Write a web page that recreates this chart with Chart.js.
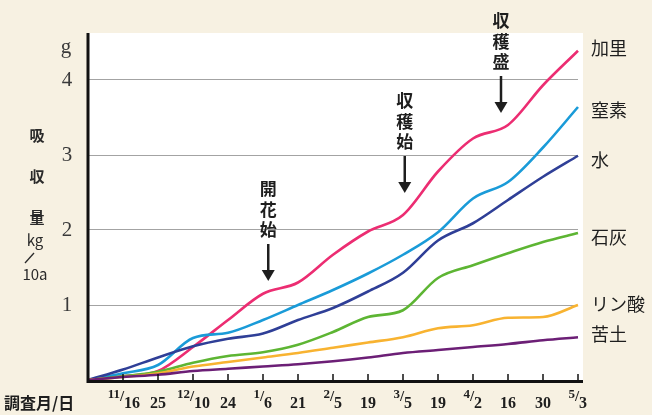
<!DOCTYPE html>
<html>
<head>
<meta charset="utf-8">
<script src="https://cdn.jsdelivr.net/npm/chart.js@4.4.1/dist/chart.umd.min.js"></script>
<style>
    html, body { margin: 0; padding: 0; background: #f7f1e2; }
    #wrap { width: 652px; height: 415px; position: relative; }
</style>
</head>
<body>
<div id="wrap"><canvas id="chart"></canvas></div>
<script>
// ---- data ----
const xLabels = ['', '11/16', '25', '12/10', '24', '1/6', '21', '2/5', '19', '3/5', '19', '4/2', '16', '30', '5/3'];
const yTickLabels = ['1', '2', '3', '4'];

const seriesNames = ['加里', '窒素', '水', '石灰', 'リン酸', '苦土'];
const kali     = [0, 0.05, 0.12, 0.44, 0.80, 1.15, 1.30, 1.67, 1.98, 2.20, 2.78, 3.22, 3.40, 3.93, 4.39];
const chisso   = [0, 0.09, 0.20, 0.56, 0.63, 0.80, 1.00, 1.20, 1.42, 1.67, 1.97, 2.42, 2.64, 3.10, 3.64];
const mizu     = [0, 0.14, 0.30, 0.45, 0.55, 0.62, 0.80, 0.96, 1.18, 1.43, 1.86, 2.09, 2.40, 2.71, 2.99];
const sekkai   = [0, 0.05, 0.11, 0.23, 0.32, 0.37, 0.47, 0.64, 0.84, 0.93, 1.36, 1.53, 1.69, 1.84, 1.96];
const rinsan   = [0, 0.04, 0.09, 0.18, 0.24, 0.30, 0.36, 0.43, 0.50, 0.57, 0.69, 0.73, 0.83, 0.84, 1.00];
const kudo     = [0, 0.04, 0.07, 0.12, 0.15, 0.18, 0.21, 0.25, 0.30, 0.36, 0.40, 0.44, 0.48, 0.53, 0.57];

// growth stage notes: label, position along the date axis (category index)
const stageNotes = [
    { text: '開花始', at: 5.15, top: 189 },
    { text: '収穫始', at: 9.05, top: 101 },
    { text: '収穫盛', at: 11.8, top: 21 }
];

const colors = ['#ec2d72', '#1a9bd8', '#2f3f97', '#5db533', '#f8b331', '#6c1f76'];
const seriesData = [kali, chisso, mizu, sekkai, rinsan, kudo];

// ---- drawing helpers ----
const JP = "'Noto Sans CJK JP', 'Noto Sans', sans-serif";
const SERIF = "'Liberation Serif', 'DejaVu Serif', serif";

function drawArrow(c, x, y1, y2) {
    c.save();
    c.strokeStyle = '#1e1e1e';
    c.fillStyle = '#1e1e1e';
    c.lineWidth = 2.5;
    c.beginPath();
    c.moveTo(x, y1);
    c.lineTo(x, y2 - 8);
    c.stroke();
    c.beginPath();
    c.moveTo(x - 6.5, y2 - 11);
    c.lineTo(x + 6.5, y2 - 11);
    c.lineTo(x, y2);
    c.closePath();
    c.fill();
    c.restore();
}

const decor = {
    id: 'decor',
    beforeDraw(chart) {
        const { ctx: c, chartArea: a } = chart;
        c.save();
        c.fillStyle = '#f7f1e2';
        c.fillRect(0, 0, chart.width, chart.height);
        c.fillStyle = '#ffffff';
        c.fillRect(a.left, a.top - 2, a.right - a.left + 5, a.bottom - a.top + 2);
        c.restore();
    },
    afterDraw(chart) {
        const { ctx: c, chartArea: a, scales } = chart;
        const xs = scales.x, ys = scales.y;
        c.save();

        // axes
        c.strokeStyle = '#111';
        c.lineWidth = 3;
        c.beginPath();
        c.moveTo(a.left, a.top - 2);
        c.lineTo(a.left, a.bottom + 1.5);
        c.lineTo(a.right + 5, a.bottom + 1.5);
        c.stroke();

        // inward tick marks on x axis
        c.lineWidth = 1.5;
        for (let i = 1; i < xLabels.length; i++) {
            const x = xs.getPixelForValue(i);
            c.beginPath();
            c.moveTo(x, a.bottom);
            c.lineTo(x, a.bottom - 6);
            c.stroke();
        }

        // y tick numbers + unit
        c.fillStyle = '#3a3a3a';
        c.font = '21px ' + SERIF;
        c.textAlign = 'center';
        c.textBaseline = 'middle';
        yTickLabels.forEach(t => c.fillText(t, 67, ys.getPixelForValue(Number(t))));
        c.fillText('g', 66, 47);

        // y title
        c.fillStyle = '#2a2a2a';
        c.font = 'bold 15px ' + JP;
        ['吸', '収', '量'].forEach((ch, k) => c.fillText(ch, 37, 135 + k * 41));
        c.font = '15px ' + JP;
        c.fillText('kg', 35, 240);
        c.fillText('10a', 35, 274);
        c.lineWidth = 1.3;
        c.strokeStyle = '#2a2a2a';
        c.beginPath();
        c.moveTo(25, 263);
        c.lineTo(34, 253);
        c.stroke();

        // x labels (fractions drawn as small numerator over slash)
        c.fillStyle = '#1e1e1e';
        c.textBaseline = 'alphabetic';
        xLabels.forEach((lab, i) => {
            if (!lab) return;
            const x = xs.getPixelForValue(i);
            const parts = lab.split('/');
            if (parts.length === 2) {
                c.font = 'bold 13px ' + SERIF;
                c.textAlign = 'right';
                c.fillText(parts[0], x - 3, 398);
                c.font = 'bold 15px ' + SERIF;
                c.textAlign = 'center';
                c.fillText('/', x - 1, 401);
                c.font = 'bold 16px ' + SERIF;
                c.textAlign = 'left';
                c.fillText(parts[1], x + 1, 408);
            } else {
                c.font = 'bold 16px ' + SERIF;
                c.textAlign = 'center';
                c.fillText(lab, x, 408);
            }
        });
        c.font = 'bold 16px ' + JP;
        c.textAlign = 'left';
        c.fillText('調査月/日', 4, 409);

        // stage notes with arrows
        c.font = 'bold 17px ' + JP;
        c.textAlign = 'center';
        c.textBaseline = 'middle';
        stageNotes.forEach(n => {
            const x = xs.getPixelForValue(n.at);
            [...n.text].forEach((ch, k) => c.fillText(ch, x, n.top + k * 20.5));
            drawArrow(c, x, n.top + 55, n.top + 92);
        });

        // series names at right
        c.font = '18px ' + JP;
        c.textAlign = 'left';
        c.fillStyle = '#1e1e1e';
        const labelY = [48, 110, 160, 237, 304, 334];
        seriesNames.forEach((s, k) => c.fillText(s, 591, labelY[k]));

        c.restore();
    }
};

new Chart(document.getElementById('chart'), {
    type: 'line',
    data: {
        labels: xLabels,
        datasets: seriesData.map((d, k) => ({
            label: seriesNames[k],
            data: d,
            borderColor: colors[k],
            borderWidth: 2.6,
            pointRadius: 0,
            cubicInterpolationMode: 'monotone',
            fill: false
        })).reverse()
    },
    options: {
        responsive: true,
        maintainAspectRatio: false,
        animation: false,
        layout: { padding: { left: 88, right: 74, top: 35, bottom: 35 } },
        plugins: {
            legend: { display: false },
            tooltip: { enabled: false }
        },
        scales: {
            x: {
                type: 'category',
                offset: false,
                grid: { display: false, drawTicks: false },
                border: { display: false },
                ticks: { display: false }
            },
            y: {
                min: 0,
                max: 4.6,
                ticks: { display: false, stepSize: 1 },
                border: { display: false },
                grid: {
                    drawTicks: false,
                    lineWidth: 1,
                    color: ctx => (ctx.tick && ctx.tick.value >= 1 && ctx.tick.value <= 4) ? '#a3a3a3' : 'transparent'
                }
            }
        }
    },
    plugins: [decor]
});
</script>
</body>
</html>
